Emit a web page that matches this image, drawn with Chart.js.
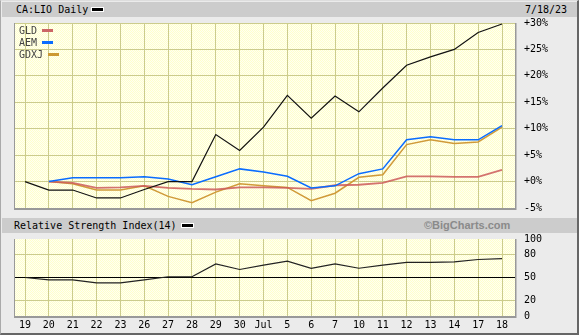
<!DOCTYPE html>
<html>
<head>
<meta charset="utf-8">
<script src="https://cdn.jsdelivr.net/npm/chart.js@4/dist/chart.umd.min.js"></script>
<style>
  body { margin: 0; background: #fff; }
  #wrap {
    position: relative; width: 579px; height: 335px; box-sizing: border-box;
    background: #ebebeb; overflow: hidden;
    border-left: 1px solid #aaa; border-top: 1px solid #ddd;
    border-right: 2px solid #666; border-bottom: 2px solid #666;
    font-family: "DejaVu Sans Mono", monospace; font-size: 10px; color: #000;
  }
  .bar { position: absolute; left: 1px; width: 575px; height: 15px; background: #cccccc; line-height: 15px; }
  .bar span { position: absolute; top: 0; }
  .sw { position: absolute; width: 11px; height: 3px; background: #000; border: 1px solid #fff; }
  canvas { position: absolute; left: -1px; }
  .leg { position: absolute; left: 18px; line-height: 12px; color: #444; }
  .leg i { position: absolute; height: 3px; width: 11px; top: 4px; }
  #bc { font-family: "Liberation Sans", Arial, sans-serif; font-weight: bold; font-size: 11px; color: #8a8a8a; }
</style>
</head>
<body>
<div id="wrap">
  <div class="bar" style="top:1px">
    <span style="left:14px">CA:LIO Daily</span>
    <div class="sw" style="left:89px; top:5px"></div>
    <span style="left:523px">7/18/23</span>
  </div>
  <canvas id="main" width="579" height="201" style="top:16px"></canvas>
  <div class="leg" style="top:24px">GLD<i style="left:23px;background:#cc6666"></i></div>
  <div class="leg" style="top:36px">AEM<i style="left:23px;background:#0a6cff"></i></div>
  <div class="leg" style="top:48px">GDXJ<i style="left:29px;background:#cc9933"></i></div>
  <div class="bar" style="top:217px">
    <span style="left:12px">Relative Strength Index(14)</span>
    <div class="sw" style="left:179px; top:5px"></div>
    <span id="bc" style="left:422px">©BigCharts.com</span>
  </div>
  <canvas id="rsi" width="579" height="102" style="top:232px"></canvas>
</div>
<script>
const dates = ['19', '20', '21', '22', '23', '26', '27', '28', '29', '30', 'Jul', '5', '6', '7', '10', '11', '12', '13', '14', '17', '18'];

const lio  = [0, -1.6, -1.6, -3.1, -3.1, -1.5, 0, 0, 8.9, 5.9, 10.3, 16.3, 12.0, 16.2, 13.2, 17.7, 22.0, 23.6, 25.0, 28.2, 29.8];
const aem  = [null, 0, 0.7, 0.7, 0.7, 0.9, 0.5, -0.6, 0.9, 2.4, 1.8, 1.0, -1.2, -0.8, 1.5, 2.4, 7.9, 8.5, 7.9, 7.9, 10.6];
const gld  = [null, 0, -0.25, -1.2, -1.1, -0.8, -1.2, -1.4, -1.5, -1.1, -1.1, -1.2, -1.4, -0.7, -0.6, -0.25, 1.0, 1.0, 0.9, 0.9, 2.2];
const gdxj = [null, 0, -0.4, -1.6, -1.6, -0.8, -2.8, -4.0, -2.0, -0.4, -0.8, -1.1, -3.6, -2.2, 0.8, 1.3, 7.0, 7.9, 7.2, 7.5, 10.3];

const rsi = [50, 47, 47, 43, 43, 47, 51, 51, 67.6, 60.4, 66, 71.2, 62, 67.6, 62, 66, 69.6, 69.6, 70.4, 73.4, 74.6];
const rsiTicks = [0, 20, 50, 80, 100];

const GRID = '#cccc8c';

Chart.defaults.font = { family: 'DejaVu Sans Mono', size: 10 };
Chart.defaults.color = '#000';

// pale yellow dotted plot background
const pc = document.createElement('canvas');
pc.width = 2; pc.height = 2;
const pctx = pc.getContext('2d');
pctx.fillStyle = '#ffffcc'; pctx.fillRect(0, 0, 2, 2);
pctx.fillStyle = '#fffff2'; pctx.fillRect(0, 0, 1, 1); pctx.fillRect(1, 1, 1, 1);

const plotFrame = {
  id: 'plotFrame',
  beforeDraw(chart) {
    const { ctx, chartArea: a } = chart;
    ctx.save();
    ctx.fillStyle = ctx.createPattern(pc, 'repeat');
    ctx.fillRect(a.left, a.top, a.right - a.left, a.bottom - a.top);
    ctx.restore();
  },
  afterDraw(chart) {
    const { ctx, chartArea: a } = chart;
    ctx.save();
    ctx.fillStyle = '#999';
    ctx.fillRect(a.left - 1, a.top, 1, a.bottom - a.top + 2);
    ctx.fillRect(a.right, a.top, 1.5, a.bottom - a.top + 2);
    ctx.fillRect(a.left - 1, a.bottom, a.right - a.left + 2, 2);
    ctx.restore();
  }
};

function pts(arr) {
  return arr.map((y, i) => ({ x: i, y: y }));
}

function xAxis(showLabels, h) {
  return {
    type: 'linear', min: -0.42, max: 20.545,
    afterFit: s => { s.height = h; },
    border: { display: false },
    grid: { color: GRID, drawTicks: false },
    ticks: {
      display: showLabels, stepSize: 1, includeBounds: false, autoSkip: false,
      maxTicksLimit: 100, maxRotation: 0, padding: 3,
      callback: v => dates[v] ?? ''
    }
  };
}

// right-hand value axis: tick marks hidden, labels pushed 9px off the plot
function yAxis(extra) {
  return Object.assign({
    position: 'right',
    afterFit: s => { s.width = 64; },
    border: { display: false }
  }, extra);
}

new Chart(document.getElementById('main'), {
  type: 'line',
  data: {
    datasets: [
      { label: 'CA:LIO', data: pts(lio), borderColor: '#111', borderWidth: 1.2 },
      { label: 'AEM', data: pts(aem), borderColor: '#0a6cff', borderWidth: 1.5 },
      { label: 'GLD', data: pts(gld), borderColor: 'rgba(204,90,90,0.85)', borderWidth: 1.8 },
      { label: 'GDXJ', data: pts(gdxj), borderColor: '#d09a38', borderWidth: 1.5 }
    ]
  },
  options: {
    responsive: false, animation: false, devicePixelRatio: 1,
    layout: { padding: { left: 15, top: 6, right: 0, bottom: 0 } },
    elements: { point: { radius: 0 }, line: { tension: 0 } },
    plugins: { legend: { display: false }, tooltip: { enabled: false } },
    scales: {
      x: xAxis(false, 10),
      y: yAxis({
        min: -5, max: 30,
        grid: { color: GRID, tickLength: 9, tickColor: 'rgba(0,0,0,0)' },
        ticks: { stepSize: 5, padding: 0, callback: v => (v >= 0 ? '+' : '') + v + '%' }
      })
    }
  },
  plugins: [plotFrame]
});

new Chart(document.getElementById('rsi'), {
  type: 'line',
  data: {
    datasets: [
      { label: 'RSI(14)', data: pts(rsi), borderColor: '#222', borderWidth: 1.2 }
    ]
  },
  options: {
    responsive: false, animation: false, devicePixelRatio: 1,
    layout: { padding: { left: 15, top: 6, right: 0, bottom: 0 } },
    elements: { point: { radius: 0 }, line: { tension: 0 } },
    plugins: { legend: { display: false }, tooltip: { enabled: false } },
    scales: {
      x: xAxis(true, 19),
      y: yAxis({
        min: 0, max: 100,
        afterBuildTicks: s => { s.ticks = rsiTicks.map(v => ({ value: v })); },
        grid: {
          tickLength: 9, tickColor: 'rgba(0,0,0,0)',
          color: c => c.tick.value === 50 ? '#000' : (c.tick.value === 0 || c.tick.value === 100 ? 'rgba(0,0,0,0)' : GRID)
        },
        ticks: { padding: 0 }
      })
    }
  },
  plugins: [plotFrame]
});
</script>
</body>
</html>
